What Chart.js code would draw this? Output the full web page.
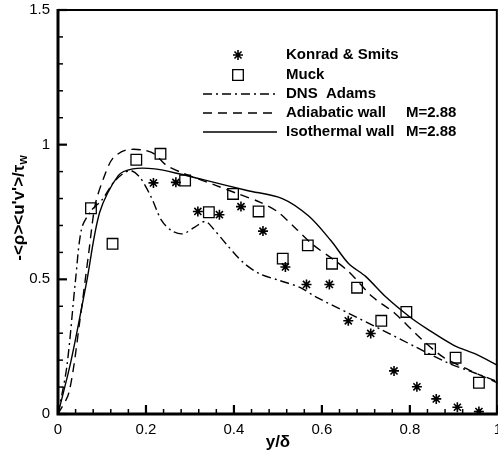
<!DOCTYPE html>
<html>
<head>
<meta charset="utf-8">
<script src="https://cdn.jsdelivr.net/npm/chart.js@4/dist/chart.umd.min.js"></script>
<style>
  html, body { margin: 0; padding: 0; background: #fff; overflow: hidden; }
  /* the canvas is a little wider than the window: y/δ = 1 falls on the window edge, its label half cut, as in the picture */
  #wrap { width: 498px; height: 459px; overflow: hidden; }
</style>
</head>
<body>
<div id="wrap"><canvas id="chart" width="509" height="459"></canvas></div>
<script>
//*Data
const konradX = [0.217, 0.268, 0.318, 0.367, 0.416, 0.466, 0.517, 0.565, 0.617, 0.660, 0.711, 0.764, 0.816, 0.860, 0.908, 0.957]
const konradY = [0.858, 0.860, 0.752, 0.740, 0.770, 0.679, 0.546, 0.481, 0.481, 0.346, 0.299, 0.160, 0.101, 0.056, 0.025, 0.009]

const muckX = [0.075, 0.124, 0.178, 0.233, 0.289, 0.343, 0.398, 0.456, 0.511, 0.568, 0.623, 0.680, 0.735, 0.792, 0.846, 0.904, 0.957]
const muckY = [0.764, 0.632, 0.944, 0.966, 0.867, 0.749, 0.817, 0.752, 0.577, 0.626, 0.558, 0.469, 0.346, 0.379, 0.241, 0.209, 0.116]

const dnsX = [0, 0.02, 0.04, 0.054, 0.076, 0.1, 0.13, 0.163, 0.186, 0.212, 0.235, 0.258, 0.284, 0.311, 0.335, 0.352, 0.382, 0.42, 0.458, 0.503, 0.55, 0.587, 0.662, 0.738, 0.813, 0.889, 0.935, 1.0]
const dnsY = [0, 0.175, 0.5, 0.69, 0.756, 0.795, 0.867, 0.904, 0.879, 0.805, 0.72, 0.681, 0.669, 0.694, 0.715, 0.69, 0.632, 0.564, 0.521, 0.496, 0.47, 0.434, 0.373, 0.311, 0.249, 0.188, 0.16, 0.12]

const adiabaticX = [0, 0.025, 0.05, 0.07, 0.085, 0.107, 0.125, 0.155, 0.195, 0.22, 0.245, 0.28, 0.36, 0.41, 0.46, 0.50, 0.54, 0.58, 0.625, 0.66, 0.715, 0.765, 0.82, 0.875, 0.935, 1.0]
const adiabaticY = [0, 0.08, 0.35, 0.6, 0.78, 0.89, 0.95, 0.98, 0.98, 0.965, 0.925, 0.897, 0.848, 0.817, 0.786, 0.75, 0.69, 0.628, 0.575, 0.53, 0.435, 0.375, 0.288, 0.212, 0.163, 0.115]

const isothermalX = [0, 0.03, 0.065, 0.095, 0.137, 0.17, 0.22, 0.28, 0.33, 0.43, 0.51, 0.57, 0.62, 0.66, 0.70, 0.745, 0.80, 0.84, 0.90, 0.95, 1.0]
const isothermalY = [0, 0.2, 0.49, 0.75, 0.885, 0.91, 0.91, 0.89, 0.87, 0.83, 0.80, 0.735, 0.645, 0.56, 0.51, 0.435, 0.36, 0.315, 0.255, 0.222, 0.18]

const xTicks = [0, 0.2, 0.4, 0.6, 0.8, 1]
const yTicks = [0, 0.5, 1, 1.5]

const seriesNames = ['Konrad & Smits', 'Muck', 'DNS  Adams', 'Adiabatic wall', 'Isothermal wall']
const machLabel = 'M=2.88'
const xTitle = 'y/\u03b4'
const yTitle = '-<\u03c1><u\'v\'>/\u03c4'
const yTitleSub = 'w'

const FONT = '"Liberation Sans", Arial, sans-serif'
const toPoints = (xs, ys) => xs.map((x, i) => ({ x: x, y: ys[i] }))

//*Frame, inward ticks, legend and y title
const decor = {
  id: 'decor',
  afterDraw(chart) {
    const ctx = chart.ctx
    const a = chart.chartArea
    const xs = chart.scales.x
    const ys = chart.scales.y
    ctx.save()
    ctx.strokeStyle = '#000'
    ctx.lineCap = 'butt'

    //? minor / major ticks, pointing inward
    for (let i = 0; i <= 25; i++) {
      const px = xs.getPixelForValue(i * 0.04)
      const len = i % 5 === 0 ? 9 : 5
      ctx.lineWidth = i % 5 === 0 ? 2.2 : 1.5
      ctx.beginPath(); ctx.moveTo(px, a.bottom); ctx.lineTo(px, a.bottom - len); ctx.stroke()
    }
    for (let i = 0; i <= 15; i++) {
      const py = ys.getPixelForValue(i * 0.1)
      const len = i % 5 === 0 ? 9 : 5
      ctx.lineWidth = i % 5 === 0 ? 2.2 : 1.5
      ctx.beginPath(); ctx.moveTo(a.left, py); ctx.lineTo(a.left + len, py); ctx.stroke()
    }

    //? frame (right edge kept inside the visible window)
    const rx = Math.min(a.right, 498) - 1
    ctx.lineWidth = 2
    ctx.beginPath(); ctx.moveTo(a.left, a.top); ctx.lineTo(rx, a.top); ctx.lineTo(rx, a.bottom); ctx.stroke()
    ctx.lineWidth = 3
    ctx.beginPath(); ctx.moveTo(a.left, a.top - 1); ctx.lineTo(a.left, a.bottom); ctx.lineTo(a.right, a.bottom); ctx.stroke()

    //? legend
    const rows = [55, 75, 94, 113, 132]
    ctx.font = 'bold 15px ' + FONT
    ctx.textBaseline = 'middle'
    chart.data.datasets.forEach((ds, i) => {
      const y = rows[i]
      ctx.lineWidth = ds.borderWidth
      ctx.strokeStyle = '#000'
      if (ds.showLine) {
        ctx.setLineDash(ds.borderDash || [])
        ctx.beginPath(); ctx.moveTo(203, y); ctx.lineTo(277, y); ctx.stroke()
        ctx.setLineDash([])
      } else {
        ctx.fillStyle = 'rgba(0,0,0,0)'
        Chart.helpers.drawPoint(ctx, {
          pointStyle: ds.pointStyle, radius: ds.pointRadius, borderWidth: ds.borderWidth, rotation: 0
        }, 238, y)
      }
      ctx.fillStyle = '#000'
      ctx.textAlign = 'left'
      ctx.fillText(seriesNames[i], 286, y)
      if (i >= 3) ctx.fillText(machLabel, 406, y)
    })

    //? y title with subscript
    ctx.translate(19, 208)
    ctx.rotate(-Math.PI / 2)
    ctx.font = 'bold 17px ' + FONT
    const w1 = ctx.measureText(yTitle).width
    ctx.font = 'bold 12px ' + FONT
    const w2 = ctx.measureText(yTitleSub).width
    const start = -(w1 + w2) / 2
    ctx.font = 'bold 17px ' + FONT
    ctx.fillText(yTitle, start, 0)
    ctx.font = 'bold 12px ' + FONT
    ctx.fillText(yTitleSub, start + w1, 5)
    ctx.restore()
  }
}

const lineSet = (label, xs, ys, dash) => ({
  label: label,
  data: toPoints(xs, ys),
  showLine: true,
  borderColor: '#000',
  borderWidth: 1.4,
  borderDash: dash,
  pointRadius: 0,
  tension: 0.3,
  fill: false,
})

new Chart(document.getElementById('chart'), {
  type: 'scatter',
  data: {
    datasets: [
      {
        label: seriesNames[0],
        data: toPoints(konradX, konradY),
        pointStyle: 'star',
        pointRadius: 5,
        borderWidth: 1.6,
        borderColor: '#000',
        backgroundColor: '#000',
      },
      {
        label: seriesNames[1],
        data: toPoints(muckX, muckY),
        pointStyle: 'rect',
        pointRadius: 7.5,
        borderWidth: 1.3,
        borderColor: '#000',
        backgroundColor: 'rgba(0,0,0,0)',
      },
      lineSet(seriesNames[2], dnsX, dnsY, [9, 4, 2, 4]),
      lineSet(seriesNames[3], adiabaticX, adiabaticY, [9, 6]),
      lineSet(seriesNames[4], isothermalX, isothermalY, []),
    ],
  },
  options: {
    responsive: false,
    animation: false,
    events: [],
    layout: { padding: { top: 10, right: 0, left: 0, bottom: 0 } },
    plugins: { legend: { display: false }, tooltip: { enabled: false } },
    scales: {
      x: {
        type: 'linear',
        min: 0,
        max: 1,
        grid: { display: false, drawTicks: false, tickLength: 0 },
        border: { display: false },
        afterBuildTicks: (s) => { s.ticks = xTicks.map(v => ({ value: v })) },
        afterFit: (s) => { s.height = 45 },
        ticks: { color: '#000', padding: 7, autoSkip: false, maxRotation: 0, callback: (v) => String(v), font: { family: FONT, size: 15 } },
        title: { display: true, text: xTitle, color: '#000', padding: { top: 0, bottom: 6 }, font: { family: FONT, size: 17, weight: 'bold' } },
      },
      y: {
        type: 'linear',
        min: 0,
        max: 1.5,
        grid: { display: false, drawTicks: false, tickLength: 0 },
        border: { display: false },
        afterBuildTicks: (s) => { s.ticks = yTicks.map(v => ({ value: v })) },
        afterFit: (s) => { s.width = 58; s.paddingTop = 0; s.paddingBottom = 0 },
        ticks: { color: '#000', padding: 8, autoSkip: false, callback: (v) => String(v), font: { family: FONT, size: 15 } },
      },
    },
  },
  plugins: [decor],
})
</script>
</body>
</html>
